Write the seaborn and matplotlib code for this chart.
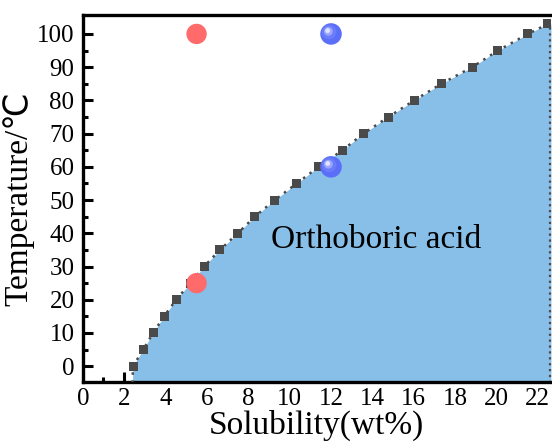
# orthoboric acid solubility curve with sample points
import numpy as np
import pandas as pd
import seaborn as sns
import matplotlib.pyplot as plt
from matplotlib.transforms import offset_copy

# solubility curve (wt%) vs temperature (deg C)
temperature = [-5, 0, 5, 10, 15, 20, 25, 30, 35, 40, 45, 50, 55, 60, 65, 70, 75, 80, 85, 90, 95, 100, 103]
solubility = [2.40, 2.43, 2.92, 3.40, 3.93, 4.51, 5.20, 5.86, 6.63, 7.49, 8.31, 9.28, 10.34, 11.40,
              12.55, 13.57, 14.77, 16.02, 17.33, 18.82, 20.07, 21.52, 22.48]
marker_temp = temperature[1:]
marker_sol = solubility[1:]

# sample points
red_x = [5.5, 5.5]
red_y = [100, 25]
blue_x = [12, 12]
blue_y = [100, 60]

xticks = list(range(0, 23, 2))
yticks = list(range(0, 101, 10))

sns.set_theme(style="ticks")
plt.rcParams["font.family"] = ["Liberation Serif", "DejaVu Sans"]
plt.rcParams["text.color"] = "black"
plt.rcParams["axes.labelcolor"] = "black"
plt.rcParams["xtick.color"] = "black"
plt.rcParams["ytick.color"] = "black"

fig = plt.figure(figsize=(5.52, 4.48), dpi=100)
ax = fig.add_axes([0.150, 0.147, 0.848, 0.8195])
ax.set_axisbelow(True)

xmax = 22.63
ax.fill_betweenx(temperature, solubility, xmax, color="#87bfe8", lw=0, zorder=1)
ax.plot([xmax - 0.02, xmax - 0.02], [-5, 103], ls=":", color="#4a4a4a", lw=1.6, zorder=2, clip_on=False)

curve = pd.DataFrame({"T": temperature, "S": solubility})
sns.lineplot(data=curve, x="S", y="T", sort=False, estimator=None, ax=ax,
             color="#4a4a4a", lw=1.8, ls=(0, (1, 2.2)), zorder=3)
sns.scatterplot(x=marker_sol, y=marker_temp, ax=ax, marker="s", s=42,
                color="#4a4a4a", edgecolor="none", zorder=4)

sns.scatterplot(x=red_x, y=red_y, ax=ax, s=215, color="#ff6b6b", edgecolor="none", zorder=5)

# blue shaded balls
sns.scatterplot(x=blue_x, y=blue_y, ax=ax, s=240, color="#5a6ef8", edgecolor="none", zorder=5)
for k, (sz, col) in enumerate([(110, "#6a7cf9"), (40, "#9aa7fc"), (12, "#dfe3fe")]):
    tr = offset_copy(ax.transData, fig=fig, x=-1.4 - k * 0.5, y=1.4 + k * 0.5, units="points")
    ax.scatter(blue_x, blue_y, s=sz, color=col, edgecolor="none", zorder=6 + k, transform=tr)

ax.text(14.2, 38, "Orthoboric acid", fontsize=24, ha="center", va="center", zorder=7)

ax.set_xlim(0, xmax)
ax.set_ylim(-4.8, 105.7)
ax.set_xticks(xticks)
ax.set_yticks(yticks)
ax.set_xticks(np.arange(1, 23, 2), minor=True)
ax.set_yticks(np.arange(5, 101, 10), minor=True)
ax.tick_params(axis="both", which="major", direction="in", length=7, width=2.2,
               labelsize=18, color="black")
ax.tick_params(axis="both", which="minor", direction="in", length=3.5, width=2.2, color="black")
ax.tick_params(axis="x", which="major", pad=4)
ax.tick_params(axis="y", which="major", pad=6)

for side in ["left", "bottom", "top"]:
    ax.spines[side].set_linewidth(2.4)
    ax.spines[side].set_color("black")
ax.spines["right"].set_visible(False)

ax.set_xlabel("Solubility(wt%)", fontsize=24, labelpad=0)
ax.set_ylabel("Temperature/℃", fontsize=24, labelpad=2)

plt.savefig("out.png", dpi=100)
